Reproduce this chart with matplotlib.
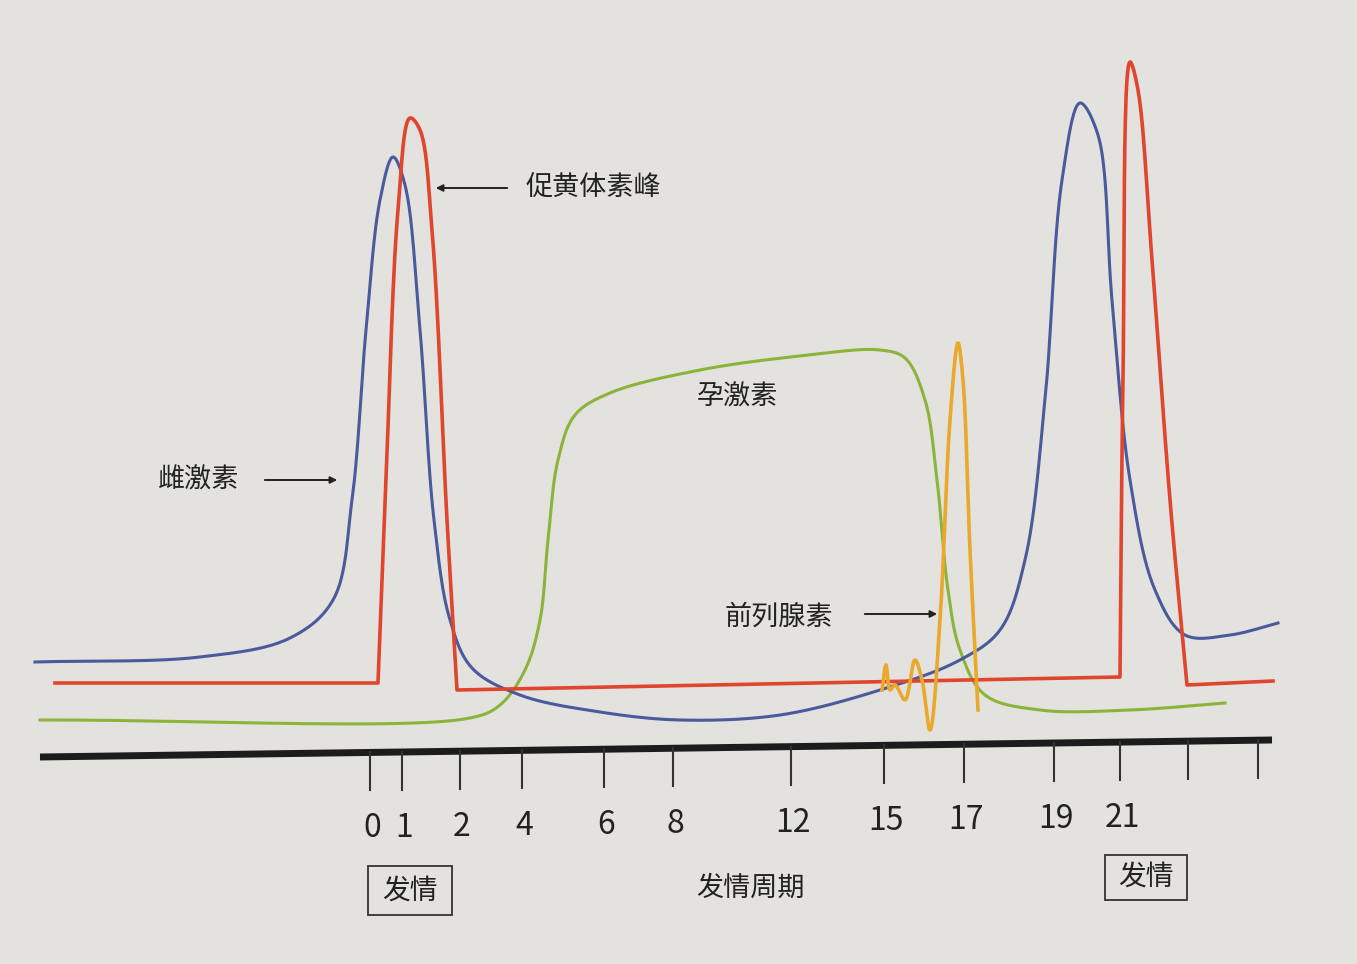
import numpy as np
import matplotlib
matplotlib.use("Agg")
import matplotlib.pyplot as plt
from matplotlib.patches import Rectangle

plt.rcParams['font.family'] = ['Noto Sans CJK SC', 'DejaVu Sans']

# cycle-day tick positions (horizontal position in drawing units) and labels
tick_x = [370, 402, 460, 522, 604, 673, 791, 884, 964, 1054, 1120, 1188, 1258]
tick_labels = ["0", "1", "2", "4", "6", "8", "12", "15", "17", "19", "21", "", ""]

# hormone curves (x, level)
estrogen_x = [35, 200, 290, 333, 352, 366, 380, 393, 405, 420, 434, 450, 472, 520, 600, 680, 780, 880, 960, 1000, 1025, 1045, 1062, 1080, 1098, 1112, 1130, 1155, 1185, 1230, 1278]
estrogen_y = [662, 657, 638, 600, 500, 330, 200, 157, 185, 330, 520, 620, 668, 695, 712, 720, 715, 690, 660, 630, 560, 400, 180, 103, 135, 300, 480, 590, 635, 635, 623]
lh_x = [55, 378, 386, 398, 410, 420, 432, 447, 457, 1120, 1123, 1130, 1138, 1152, 1170, 1187, 1273]
lh_y = [683, 683, 480, 210, 118, 130, 230, 520, 690, 677, 380, 62, 90, 260, 500, 685, 681]
prog_x = [40, 470, 500, 525, 540, 548, 558, 575, 610, 700, 800, 880, 905, 925, 937, 948, 960, 985, 1040, 1130, 1225]
prog_y = [720, 718, 705, 670, 620, 540, 460, 415, 393, 370, 356, 350, 358, 400, 480, 590, 650, 695, 710, 710, 703]
pg_x = [882, 886, 890, 895, 905, 915, 922, 930, 940, 950, 958, 963, 970, 978]
pg_y = [690, 665, 690, 685, 700, 660, 680, 730, 620, 420, 343, 380, 550, 710]

def smooth(x, y, n=24, alpha=0.5):
    P = np.column_stack([np.asarray(x, float), np.asarray(y, float)])
    P = np.vstack([2*P[0]-P[1], P, 2*P[-1]-P[-2]])
    out = []
    for i in range(1, len(P) - 2):
        p0, p1, p2, p3 = P[i-1], P[i], P[i+1], P[i+2]
        t0 = 0.0
        t1 = t0 + np.linalg.norm(p1-p0)**alpha + 1e-9
        t2 = t1 + np.linalg.norm(p2-p1)**alpha + 1e-9
        t3 = t2 + np.linalg.norm(p3-p2)**alpha + 1e-9
        t = np.linspace(t1, t2, n, endpoint=False)[:, None]
        A1 = (t1-t)/(t1-t0)*p0 + (t-t0)/(t1-t0)*p1
        A2 = (t2-t)/(t2-t1)*p1 + (t-t1)/(t2-t1)*p2
        A3 = (t3-t)/(t3-t2)*p2 + (t-t2)/(t3-t2)*p3
        B1 = (t2-t)/(t2-t0)*A1 + (t-t0)/(t2-t0)*A2
        B2 = (t3-t)/(t3-t1)*A2 + (t-t1)/(t3-t1)*A3
        out.append((t2-t)/(t2-t1)*B1 + (t-t1)/(t2-t1)*B2)
    out.append(P[-2][None, :])
    o = np.vstack(out)
    return o[:, 0], o[:, 1]

def piecewise(x, y, segs):
    xs, ys = [], []
    for a, b in segs:
        sx, sy = smooth(x[a:b+1], y[a:b+1])
        xs.append(sx); ys.append(sy)
    return np.concatenate(xs), np.concatenate(ys)

fig = plt.figure(figsize=(13.57, 9.64), dpi=100, facecolor='#e3e2df')
ax = fig.add_axes([0, 0, 1, 1])
ax.set_facecolor('#e3e2df')
ax.set_xlim(0, 1357); ax.set_ylim(964, 0); ax.axis('off')

ax.plot(*smooth(prog_x, prog_y), color='#8db43a', lw=2.2)
ax.plot(*smooth(estrogen_x, estrogen_y), color='#4a5a9c', lw=2.2)
ax.plot(*piecewise(lh_x, lh_y, [(0, 1), (1, 8), (8, 9), (9, 15), (15, 16)]), color='#e0452e', lw=2.6)
ax.plot(*smooth(pg_x, pg_y), color='#eaa92c', lw=2.6)

# axis line (slightly tilted in the photo)
ax.plot([40, 1272], [757, 740], color='#1c1c1c', lw=5, solid_capstyle='butt')
for tx in tick_x:
    yb = 757 - (tx - 40) * 17 / 1232
    ax.plot([tx, tx], [yb, yb + 38], color='#333333', lw=1.5)
for tx, lab in zip(tick_x, tick_labels):
    if lab:
        yb = 757 - (tx - 40) * 17 / 1232
        ax.text(tx + 2, yb + 76, lab, ha='center', va='center', fontsize=23, color='#222222')

tc = '#222222'
fs = 19.5
ax.text(525, 187, "促黄体素峰", fontsize=fs, va='center', color=tc)
ax.annotate("", xy=(433, 188), xytext=(510, 188), arrowprops=dict(arrowstyle='-|>', color=tc, lw=1.4))
ax.text(158, 480, "雌激素", fontsize=fs, va='center', color=tc)
ax.annotate("", xy=(340, 480), xytext=(262, 480), arrowprops=dict(arrowstyle='-|>', color=tc, lw=1.4))
ax.text(697, 397, "孕激素", fontsize=fs, va='center', color=tc)
ax.text(725, 617, "前列腺素", fontsize=fs, va='center', color=tc)
ax.annotate("", xy=(940, 614), xytext=(862, 614), arrowprops=dict(arrowstyle='-|>', color=tc, lw=1.4))
ax.text(750, 888, "发情周期", fontsize=fs, ha='center', va='center', color=tc)

ax.add_patch(Rectangle((368, 866), 84, 49, fill=False, ec='#333333', lw=1.3))
ax.text(410, 891, "发情", fontsize=20, ha='center', va='center', color=tc)
ax.add_patch(Rectangle((1105, 855), 82, 45, fill=False, ec='#333333', lw=1.3))
ax.text(1146, 877, "发情", fontsize=20, ha='center', va='center', color=tc)

fig.savefig("out.png", dpi=100, facecolor=fig.get_facecolor())
